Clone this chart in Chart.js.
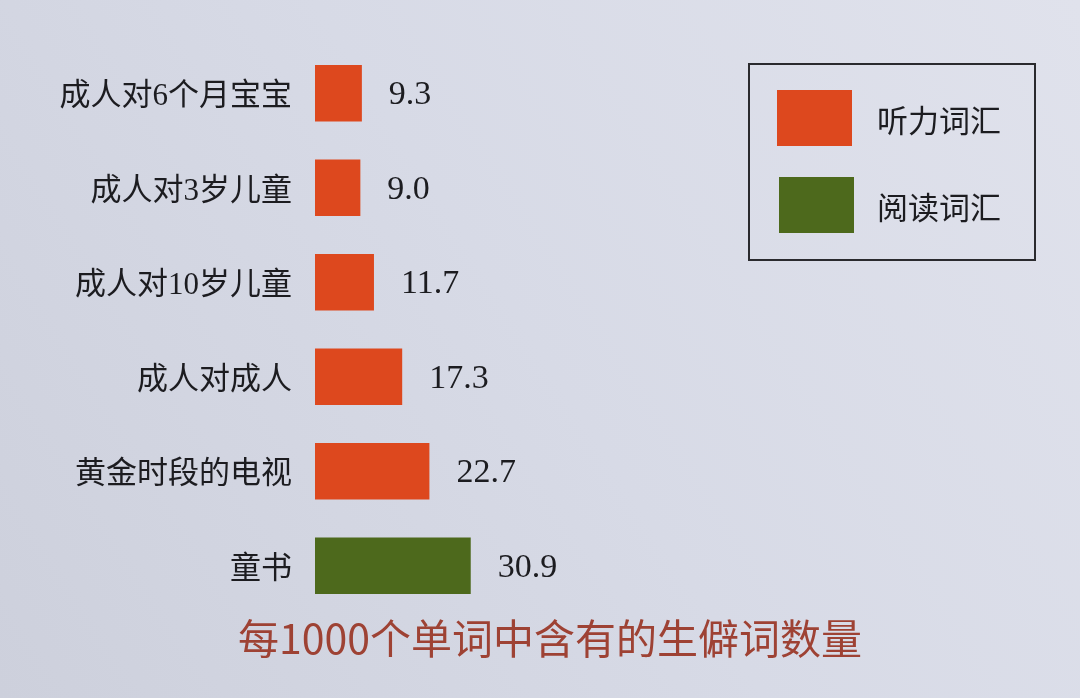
<!DOCTYPE html>
<html>
<head>
<meta charset="utf-8">
<script src="https://cdn.jsdelivr.net/npm/chart.js@4"></script>
<style>
  html, body { margin: 0; padding: 0; background: #d9dce6; }
  #wrap { width: 1080px; height: 698px; position: relative; }
</style>
</head>
<body>
<div id="wrap"><canvas id="c" width="1080" height="698"></canvas></div>
<script>
// Rare words per 1000 words, by source of language
const categories = ['成人对6个月宝宝', '成人对3岁儿童', '成人对10岁儿童', '成人对成人', '黄金时段的电视', '童书'];
const listeningValues = [9.3, 9.0, 11.7, 17.3, 22.7, null];
const readingValues = [null, null, null, null, null, 30.9];
const seriesNames = ['听力词汇', '阅读词汇'];
const chartTitle = '每1000个单词中含有的生僻词数量';

const ORANGE = '#dd481e';
const GREEN = '#4d691c';
const INK = '#1c1c20';
// Latin digits in a serif face, Chinese glyphs from the CJK sans
const LABEL_FONT = '"Liberation Serif", "Noto Sans CJK SC", sans-serif';

// Page-like background with a soft light falloff
const backgroundPlugin = {
  id: 'paper',
  beforeDraw(chart) {
    const { ctx, width, height } = chart;
    const g = ctx.createLinearGradient(0, height, width, 0);
    g.addColorStop(0, '#cdd0dc');
    g.addColorStop(0.5, '#d7dae6');
    g.addColorStop(1, '#e0e2ec');
    ctx.save();
    ctx.fillStyle = g;
    ctx.fillRect(0, 0, width, height);
    ctx.restore();
  }
};

// Numeric value printed to the right of each bar
const valueLabelPlugin = {
  id: 'valueLabels',
  afterDatasetsDraw(chart) {
    const { ctx } = chart;
    ctx.save();
    ctx.font = '34px "Liberation Serif", "DejaVu Serif", serif';
    ctx.fillStyle = INK;
    ctx.textAlign = 'left';
    ctx.textBaseline = 'middle';
    chart.data.datasets.forEach((ds, di) => {
      const meta = chart.getDatasetMeta(di);
      meta.data.forEach((bar, i) => {
        const v = ds.data[i];
        if (v === null || v === undefined) return;
        ctx.fillText(v.toFixed(1), bar.x + 27, bar.y + 2);
      });
    });
    ctx.restore();
  }
};

// Boxed legend in the upper right and the caption below the bars
const legendBoxPlugin = {
  id: 'legendBox',
  afterDraw(chart) {
    const { ctx } = chart;
    ctx.save();
    ctx.strokeStyle = '#2a2a2e';
    ctx.lineWidth = 2;
    ctx.strokeRect(749, 64, 286, 196);
    chart.data.datasets.forEach((ds, i) => {
      const y = 90 + i * 87;
      ctx.fillStyle = ds.backgroundColor;
      ctx.fillRect(777 + i * 2, y, 75, 56);
      ctx.fillStyle = INK;
      ctx.font = '31px "Noto Sans CJK SC", sans-serif';
      ctx.textAlign = 'left';
      ctx.textBaseline = 'middle';
      ctx.fillText(ds.label, 877, y + 30);
    });
    ctx.fillStyle = '#9e4234';
    ctx.font = '41px "Noto Sans CJK SC", sans-serif';
    ctx.textAlign = 'center';
    ctx.textBaseline = 'middle';
    ctx.fillText(chartTitle, 550, 638);
    ctx.restore();
  }
};

new Chart(document.getElementById('c'), {
  type: 'bar',
  data: {
    labels: categories,
    datasets: [
      { label: seriesNames[0], data: listeningValues, backgroundColor: ORANGE },
      { label: seriesNames[1], data: readingValues, backgroundColor: GREEN }
    ]
  },
  options: {
    indexAxis: 'y',
    responsive: false,
    animation: false,
    devicePixelRatio: 1,
    layout: { padding: { left: 0, right: 261, top: 46, bottom: 85 } },
    datasets: {
      bar: { grouped: false, barPercentage: 0.6, categoryPercentage: 1, borderWidth: 0 }
    },
    scales: {
      x: { display: false, min: 0, max: 100 },
      y: {
        grid: { display: false, drawTicks: false },
        border: { display: false },
        ticks: {
          padding: 23,
          labelOffset: 4,
          color: INK,
          font: { family: LABEL_FONT, size: 31 }
        },
        afterFit(scale) { scale.width = 315; }
      }
    },
    plugins: {
      legend: { display: false },
      tooltip: { enabled: false },
      title: { display: false }
    }
  },
  plugins: [backgroundPlugin, valueLabelPlugin, legendBoxPlugin]
});
</script>
</body>
</html>
